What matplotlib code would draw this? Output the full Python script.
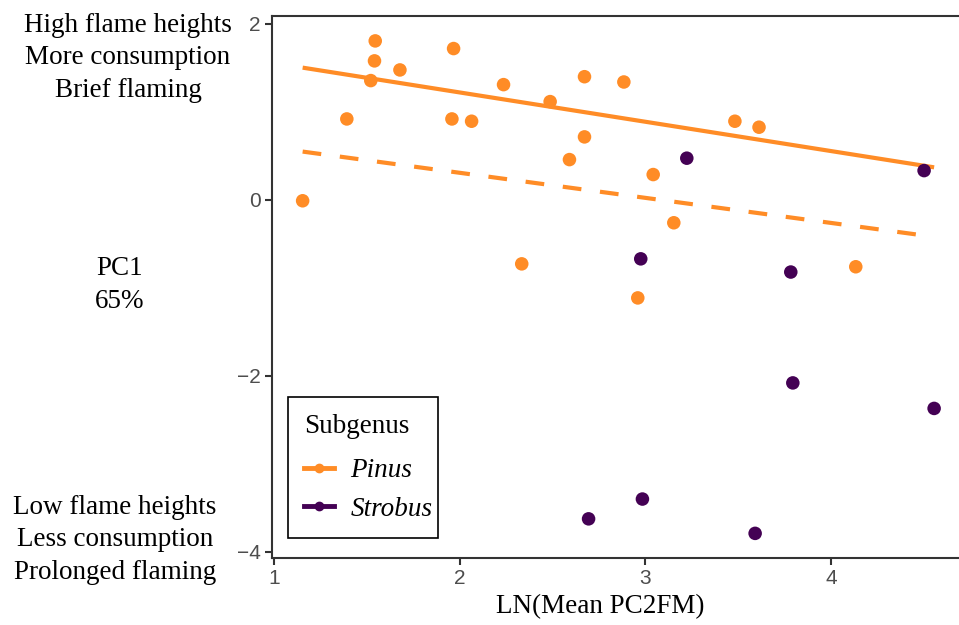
import matplotlib
matplotlib.use("Agg")
from matplotlib import pyplot as plt
from matplotlib.lines import Line2D
from matplotlib.patches import Rectangle

# Pinus points
pinus_x = [1.155, 1.393, 1.522, 1.542, 1.546, 1.679, 1.959, 1.968, 2.065, 2.237,
           2.335, 2.488, 2.592, 2.673, 2.673, 2.885, 2.960, 3.043, 3.154, 3.483,
           3.613, 4.134]
pinus_y = [-0.01, 0.92, 1.356, 1.58, 1.807, 1.477, 0.92, 1.72, 0.894, 1.31,
           -0.727, 1.117, 0.458, 1.40, 0.716, 1.34, -1.114, 0.288, -0.26, 0.894,
           0.826, -0.76]

# Strobus points
strobus_x = [2.695, 2.976, 2.985, 3.224, 3.592, 3.784, 3.795, 4.502, 4.556]
strobus_y = [-3.625, -0.67, -3.40, 0.474, -3.79, -0.82, -2.08, 0.333, -2.37]

# fitted lines
fit_x = [1.155, 4.556]
fit_solid = [1.503, 0.37]
fit_dashed = [0.549, -0.42]

orange = "#FF8C26"
purple = "#440154"
serif = "Liberation Serif"
sans = "Liberation Sans"
fs = 19.5

fig = plt.figure(figsize=(9.59, 6.25), dpi=100)
ax = fig.add_axes([272 / 959, (625 - 558) / 625, 1 - 272 / 959, (558 - 16) / 625])

ax.plot(fit_x, fit_solid, color=orange, lw=3, solid_capstyle="butt", zorder=2)
ax.plot(fit_x, fit_dashed, color=orange, lw=3, dashes=(4.5, 4.5), zorder=2)
ax.scatter(pinus_x, pinus_y, s=95, color=orange, edgecolors="none", zorder=3)
ax.scatter(strobus_x, strobus_y, s=95, color=purple, edgecolors="none", zorder=3)

ax.set_xlim(0.99, 4.69)
ax.set_ylim(-4.07, 2.09)
ax.set_xticks([1, 2, 3, 4])
ax.set_yticks([-4, -2, 0, 2])
ax.set_xticklabels(["1", "2", "3", "4"], fontfamily=sans)
ax.set_yticklabels(["\u22124", "\u22122", "0", "2"], fontfamily=sans)
ax.tick_params(labelsize=15, labelcolor="#4D4D4D", color="#333333", width=1.5, length=5, pad=3)
for side in ["left", "bottom", "top"]:
    ax.spines[side].set_linewidth(1.5)
    ax.spines[side].set_color("#333333")
ax.spines["right"].set_visible(False)

ax.set_xlabel("LN(Mean PC2FM)", fontfamily=serif, fontsize=fs, va="center")
ax.xaxis.set_label_coords((600 - 272) / 687, -(607 - 558) / 542)

# y label and annotations, left of the axes
fig.text(120 / 959, 1 - 285 / 625, "PC1\n65%", ha="center", va="center",
         fontfamily=serif, fontsize=fs, linespacing=1.38)
fig.text(128 / 959, 1 - 58 / 625, "High flame heights\nMore consumption\nBrief flaming",
         ha="center", va="center", fontfamily=serif, fontsize=fs, linespacing=1.38)
fig.text(115 / 959, 1 - 540 / 625, "Low flame heights\nLess consumption\nProlonged flaming",
         ha="center", va="center", fontfamily=serif, fontsize=fs, linespacing=1.38)

# legend frame drawn separately (ggplot-like tight right padding)
ax.add_patch(Rectangle(((288 - 272) / 687, (558 - 538) / 542), 150 / 687, 141 / 542,
                       transform=ax.transAxes, facecolor="white", edgecolor="black",
                       lw=1.2, zorder=4))

handles = [Line2D([], [], color=orange, lw=3.5, marker="o", markersize=6),
           Line2D([], [], color=purple, lw=3.5, marker="o", markersize=6)]
leg = ax.legend(handles, ["Pinus", "Strobus"], title="Subgenus",
                loc="lower left", bbox_to_anchor=(16 / 687, 20 / 542), borderaxespad=0,
                prop={"family": serif, "style": "italic", "size": fs},
                title_fontproperties={"family": serif, "size": fs},
                frameon=False,
                handlelength=1.1, handletextpad=0.6, borderpad=0.6, labelspacing=0.5)
leg.set_zorder(5)
leg._legend_box.align = "left"
leg._legend_box.sep = 14

fig.savefig("out.png", dpi=100)
